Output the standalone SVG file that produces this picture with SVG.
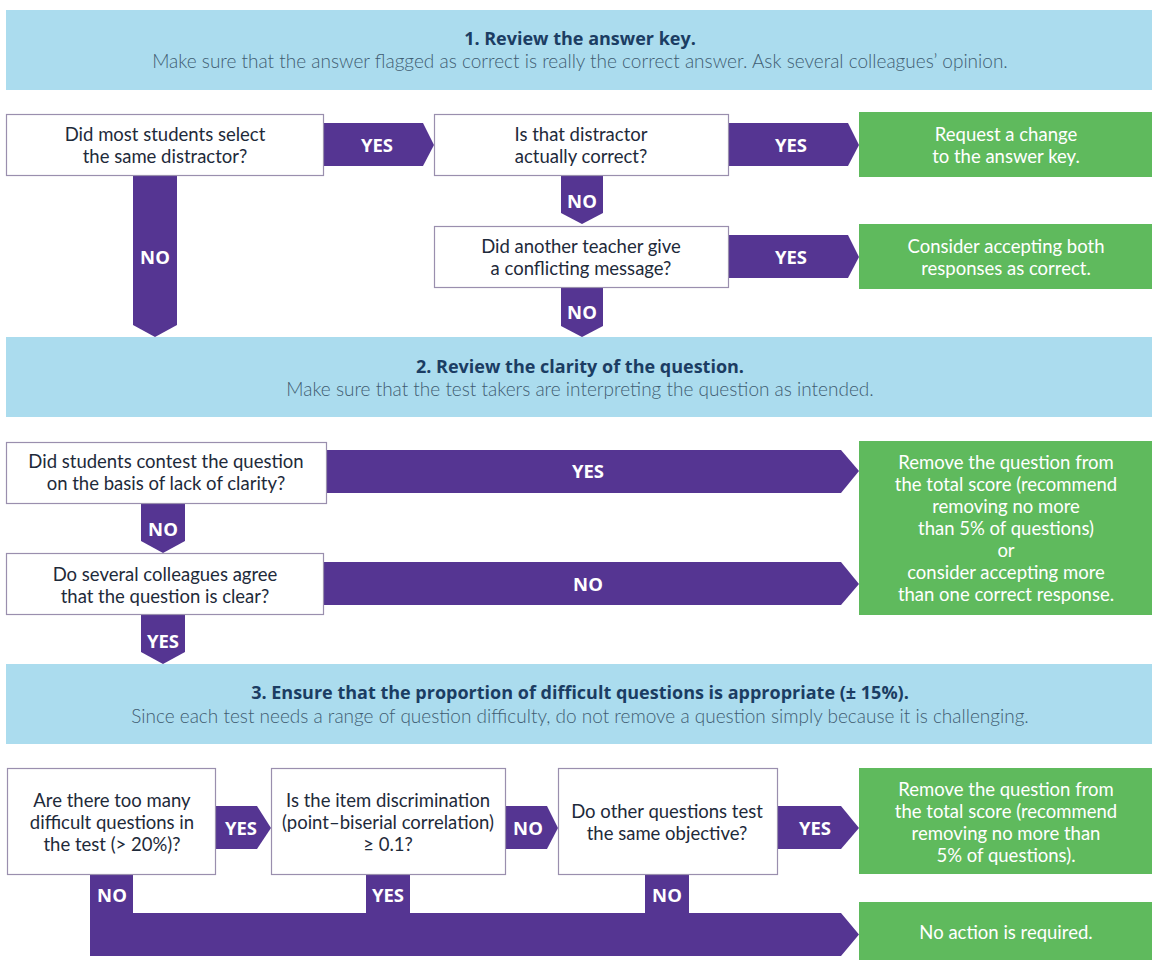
<svg xmlns="http://www.w3.org/2000/svg" width="1152" height="960" viewBox="0 0 1152 960">
<style>
.bg{fill:#ffffff}
.banner{fill:#abdcee}
.title{font-family:"Open Sans","Liberation Sans",sans-serif;font-size:18px;font-weight:bold;fill:#1b3d63;text-anchor:middle}
.sub{font-family:"Lato","Open Sans","Liberation Sans",sans-serif;font-size:19px;font-weight:300;fill:#3f5d72;text-anchor:middle}
.box{fill:#ffffff;stroke:#9a8fae;stroke-width:1.2}
.q{font-family:"Lato","Open Sans","Liberation Sans",sans-serif;font-size:18.5px;fill:#1e2a3a;text-anchor:middle}
.green{fill:#5fba5d}
.g{font-family:"Lato","Open Sans","Liberation Sans",sans-serif;font-size:18.5px;fill:#ffffff;text-anchor:middle}
.arr{fill:#553592}
.lbl{font-family:"Open Sans","Liberation Sans",sans-serif;font-size:18.5px;font-weight:bold;fill:#ffffff;text-anchor:middle}
</style>
<rect class="bg" x="0" y="0" width="1152" height="960"/>

<g id="banner1">
<rect class="banner" x="6" y="10" width="1146" height="80"/>
<text class="title" x="580" y="45">1. Review the answer key.</text>
<text class="sub" x="580" y="68">Make sure that the answer flagged as correct is really the correct answer. Ask several colleagues’ opinion.</text>
</g>
<g id="banner2">
<rect class="banner" x="6" y="337" width="1146" height="80"/>
<text class="title" x="580" y="373">2. Review the clarity of the question.</text>
<text class="sub" x="580" y="396">Make sure that the test takers are interpreting the question as intended.</text>
</g>
<g id="banner3">
<rect class="banner" x="6" y="664" width="1146" height="80"/>
<text class="title" x="580" y="699">3. Ensure that the proportion of difficult questions is appropriate (± 15%).</text>
<text class="sub" x="580" y="723">Since each test needs a range of question difficulty, do not remove a question simply because it is challenging.</text>
</g>

<g id="connectors">
<polygon class="arr" points="323,123 423,123 434,145 423,166 323,166"/>
<text class="lbl" x="377" y="152">YES</text>
<polygon class="arr" points="728,123 848,123 859,145 848,166 728,166"/>
<text class="lbl" x="791" y="152">YES</text>
<polygon class="arr" points="561,175 603,175 603,213 582,224 561,213"/>
<text class="lbl" x="582" y="208">NO</text>
<polygon class="arr" points="728,235 848,235 859,257 848,278 728,278"/>
<text class="lbl" x="791" y="264">YES</text>
<polygon class="arr" points="561,287 603,287 603,326 582,337 561,326"/>
<text class="lbl" x="582" y="319">NO</text>
<polygon class="arr" points="133,175 177,175 177,325 155,337 133,325"/>
<text class="lbl" x="155" y="264">NO</text>

<polygon class="arr" points="326,450 841,450 859,471 841,493 326,493"/>
<text class="lbl" x="588" y="478">YES</text>
<polygon class="arr" points="141,503 185,503 185,541 163,553 141,541"/>
<text class="lbl" x="163" y="536">NO</text>
<polygon class="arr" points="324,562 841,562 859,584 841,605 324,605"/>
<text class="lbl" x="588" y="591">NO</text>
<polygon class="arr" points="141,614 185,614 185,652 163,664 141,652"/>
<text class="lbl" x="163" y="648">YES</text>

<polygon class="arr" points="215,806 257,806 271,828 257,849 215,849"/>
<text class="lbl" x="241" y="835">YES</text>
<polygon class="arr" points="505,806 547,806 558,828 547,849 505,849"/>
<text class="lbl" x="528" y="835">NO</text>
<polygon class="arr" points="777,806 841,806 859,828 841,849 777,849"/>
<text class="lbl" x="815" y="835">YES</text>
<polygon class="arr" points="90,874 133,874 133,913 366,913 366,874 410,874 410,913 645,913 645,874 689,874 689,913 841,913 859,934.5 841,956 90,956"/>
<text class="lbl" x="112" y="902">NO</text>
<text class="lbl" x="388" y="902">YES</text>
<text class="lbl" x="667" y="902">NO</text>
</g>

<g id="q1">
<rect class="box" x="6.5" y="114.5" width="317" height="61"/>
<text class="q" x="165" y="141">Did most students select</text>
<text class="q" x="165" y="163">the same distractor?</text>
</g>
<g id="q2">
<rect class="box" x="434.5" y="114.5" width="294" height="61"/>
<text class="q" x="581" y="141">Is that distractor</text>
<text class="q" x="581" y="163">actually correct?</text>
</g>
<g id="q3">
<rect class="box" x="434.5" y="226.5" width="294" height="61"/>
<text class="q" x="581" y="253">Did another teacher give</text>
<text class="q" x="581" y="275">a conflicting message?</text>
</g>
<g id="r1">
<rect class="green" x="859" y="112" width="293" height="65"/>
<text class="g" x="1006" y="141">Request a change</text>
<text class="g" x="1006" y="163">to the answer key.</text>
</g>
<g id="r2">
<rect class="green" x="859" y="224" width="293" height="65"/>
<text class="g" x="1006" y="253">Consider accepting both</text>
<text class="g" x="1006" y="275">responses as correct.</text>
</g>

<g id="q4">
<rect class="box" x="6.5" y="442.5" width="320" height="61"/>
<text class="q" x="166" y="468">Did students contest the question</text>
<text class="q" x="166" y="490">on the basis of lack of clarity?</text>
</g>
<g id="q5">
<rect class="box" x="6.5" y="553.5" width="317" height="61"/>
<text class="q" x="165" y="581">Do several colleagues agree</text>
<text class="q" x="165" y="603">that the question is clear?</text>
</g>
<g id="r3">
<rect class="green" x="859" y="441" width="293" height="174"/>
<text class="g" x="1006" y="468.5">Remove the question from</text>
<text class="g" x="1006" y="490.5">the total score (recommend</text>
<text class="g" x="1006" y="512.5">removing no more</text>
<text class="g" x="1006" y="534.5">than 5% of questions)</text>
<text class="g" x="1006" y="556.5">or</text>
<text class="g" x="1006" y="578.5">consider accepting more</text>
<text class="g" x="1006" y="600.5">than one correct response.</text>
</g>

<g id="q6">
<rect class="box" x="7.5" y="768.5" width="208" height="106"/>
<text class="q" x="112" y="806.5">Are there too many</text>
<text class="q" x="112" y="828.5">difficult questions in</text>
<text class="q" x="112" y="850.5">the test (&gt; 20%)?</text>
</g>
<g id="q7">
<rect class="box" x="271.5" y="768.5" width="234" height="106"/>
<text class="q" x="388" y="806.5">Is the item discrimination</text>
<text class="q" x="388" y="828.5">(point–biserial correlation)</text>
<text class="q" x="388" y="850.5">≥ 0.1?</text>
</g>
<g id="q8">
<rect class="box" x="558.5" y="768.5" width="219" height="106"/>
<text class="q" x="667" y="818">Do other questions test</text>
<text class="q" x="667" y="840">the same objective?</text>
</g>
<g id="r4">
<rect class="green" x="859" y="768" width="293" height="106"/>
<text class="g" x="1006" y="796">Remove the question from</text>
<text class="g" x="1006" y="818">the total score (recommend</text>
<text class="g" x="1006" y="840">removing no more than</text>
<text class="g" x="1006" y="862">5% of questions).</text>
</g>
<g id="r5">
<rect class="green" x="859" y="902" width="293" height="58"/>
<text class="g" x="1006" y="939">No action is required.</text>
</g>
</svg>
